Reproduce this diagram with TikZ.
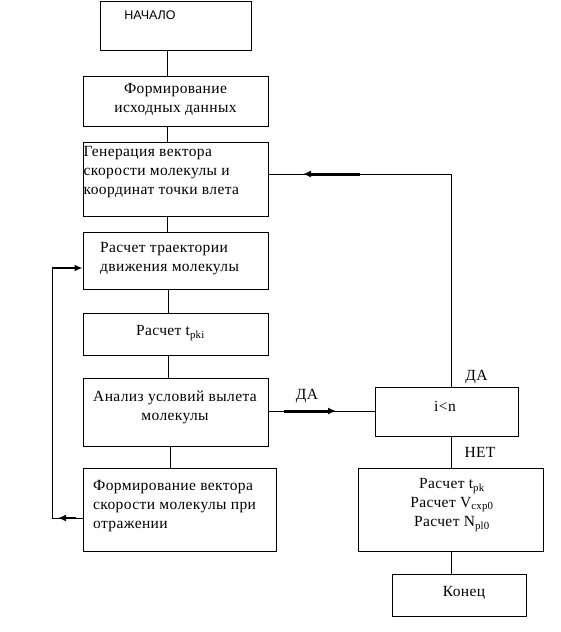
\documentclass[tikz,border=0pt]{standalone}
\usepackage{fontspec}
\setmainfont{Liberation Serif}[LetterSpace=2.5]
\newfontfamily\arialfont{Liberation Sans}
\usetikzlibrary{arrows.meta}
\begin{document}
\begin{tikzpicture}[x=1pt,y=-1pt,
  box/.style={draw, line width=1pt, rectangle, inner sep=0pt},
  txt/.style={font=\fontsize{15.5}{19}\selectfont, inner sep=0pt},
  ln/.style={line width=1pt},
  boldarrow/.style={line width=3pt, -{Latex[length=8pt,width=7pt]}},
  midarrow/.style={line width=1.8pt, -{Latex[length=8pt,width=7pt]}}
]
\useasboundingbox[fill=white] (0,0) rectangle (560,632);
% boxes
\node[box, minimum width=151pt, minimum height=49pt] (start) at (175.5,25.5) {};
\node[box, minimum width=185pt, minimum height=50pt] (fd) at (175.5,101) {};
\node[box, minimum width=185pt, minimum height=74pt] (gen) at (175.5,179) {};
\node[box, minimum width=185pt, minimum height=57pt] (traj) at (175.5,260.5) {};
\node[box, minimum width=185pt, minimum height=42pt] (tpki) at (175.5,334) {};
\node[box, minimum width=185pt, minimum height=68pt] (anal) at (175.5,412) {};
\node[box, minimum width=193pt, minimum height=83pt] (refl) at (179.5,509.5) {};
\node[box, minimum width=143pt, minimum height=49pt] (cond) at (446.5,411.5) {};
\node[box, minimum width=185pt, minimum height=83pt] (calc) at (450.5,509.5) {};
\node[box, minimum width=134pt, minimum height=42pt] (end) at (459,595) {};
% texts
\node[inner sep=0pt, font=\arialfont\fontsize{12.5}{14}\selectfont, anchor=base] (tstart) at (150,19.5) {НАЧАЛО};
\node[txt, align=center] (tfd) at (175.5,99) {Формирование\\исходных данных};
\node[txt, align=left, anchor=west] (tgen) at (83.5,172) {Генерация вектора\\скорости молекулы и\\координат точки влета};
\node[txt, align=left, anchor=west] (ttraj) at (100,259) {Расчет траектории\\движения молекулы};
\node[txt] (ttpki) at (170.5,333) {Расчет t\textsubscript{pki}};
\node[txt, align=center] (tanal) at (175,407) {Анализ условий вылета\\молекулы};
\node[txt, align=left, anchor=west] (trefl) at (93,506) {Формирование вектора\\скорости молекулы при\\отражении};
\node[txt] (tcond) at (445,406) {i<n};
\node[txt, align=center] (tcalc) at (452,505) {Расчет t\textsubscript{pk}\\Расчет V\textsubscript{cxp0}\\Расчет N\textsubscript{pl0}};
\node[txt] (tend) at (464,593) {Конец};
\node[txt] (lyes1) at (476.5,377) {ДА};
\node[txt] (lyes2) at (307,396) {ДА};
\node[txt] (lno) at (480,452) {НЕТ};
% helper coordinates
\coordinate (spA) at (167,0);
\coordinate (spB) at (168,0);
\coordinate (spC) at (170,0);
\coordinate (spR) at (451,0);
\coordinate (spL) at (52,0);
\coordinate (yG) at (0,174);
\coordinate (yA) at (0,411);
\coordinate (yT) at (0,268);
\coordinate (yF) at (0,518);
\coordinate (gA0) at (360,174);
\coordinate (gA1) at (303,174);
\coordinate (aA0) at (284,411);
\coordinate (aA1) at (336,411);
\coordinate (fA0) at (76,518);
\coordinate (fA1) at (58,518);
% vertical connectors
\draw[ln] (start.south -| spA) -- (fd.north -| spA);
\draw[ln] (fd.south -| spA) -- (gen.north -| spA);
\draw[ln] (gen.south -| spA) -- (traj.north -| spA);
\draw[ln] (traj.south -| spB) -- (tpki.north -| spB);
\draw[ln] (tpki.south -| spB) -- (anal.north -| spB);
\draw[ln] (anal.south -| spC) -- (refl.north -| spC);
\draw[ln] (cond.south -| spR) -- (calc.north -| spR);
\draw[ln] (calc.south -| spR) -- (end.north -| spR);
% loop back from cond to gen
\draw[ln] (cond.north -| spR) -- (spR |- yG) -- (gen.east |- yG);
\draw[boldarrow] (gA0) -- (gA1);
% anal -> cond
\draw[ln] (anal.east |- yA) -- (cond.west |- yA);
\draw[boldarrow] (aA0) -- (aA1);
% reflection loop
\draw[ln] (refl.west |- yF) -- (spL |- yF) -- (spL |- yT);
\draw[midarrow] (spL |- yT) -- (traj.west |- yT);
\draw[midarrow] (fA0) -- (fA1);
\end{tikzpicture}
\end{document}
